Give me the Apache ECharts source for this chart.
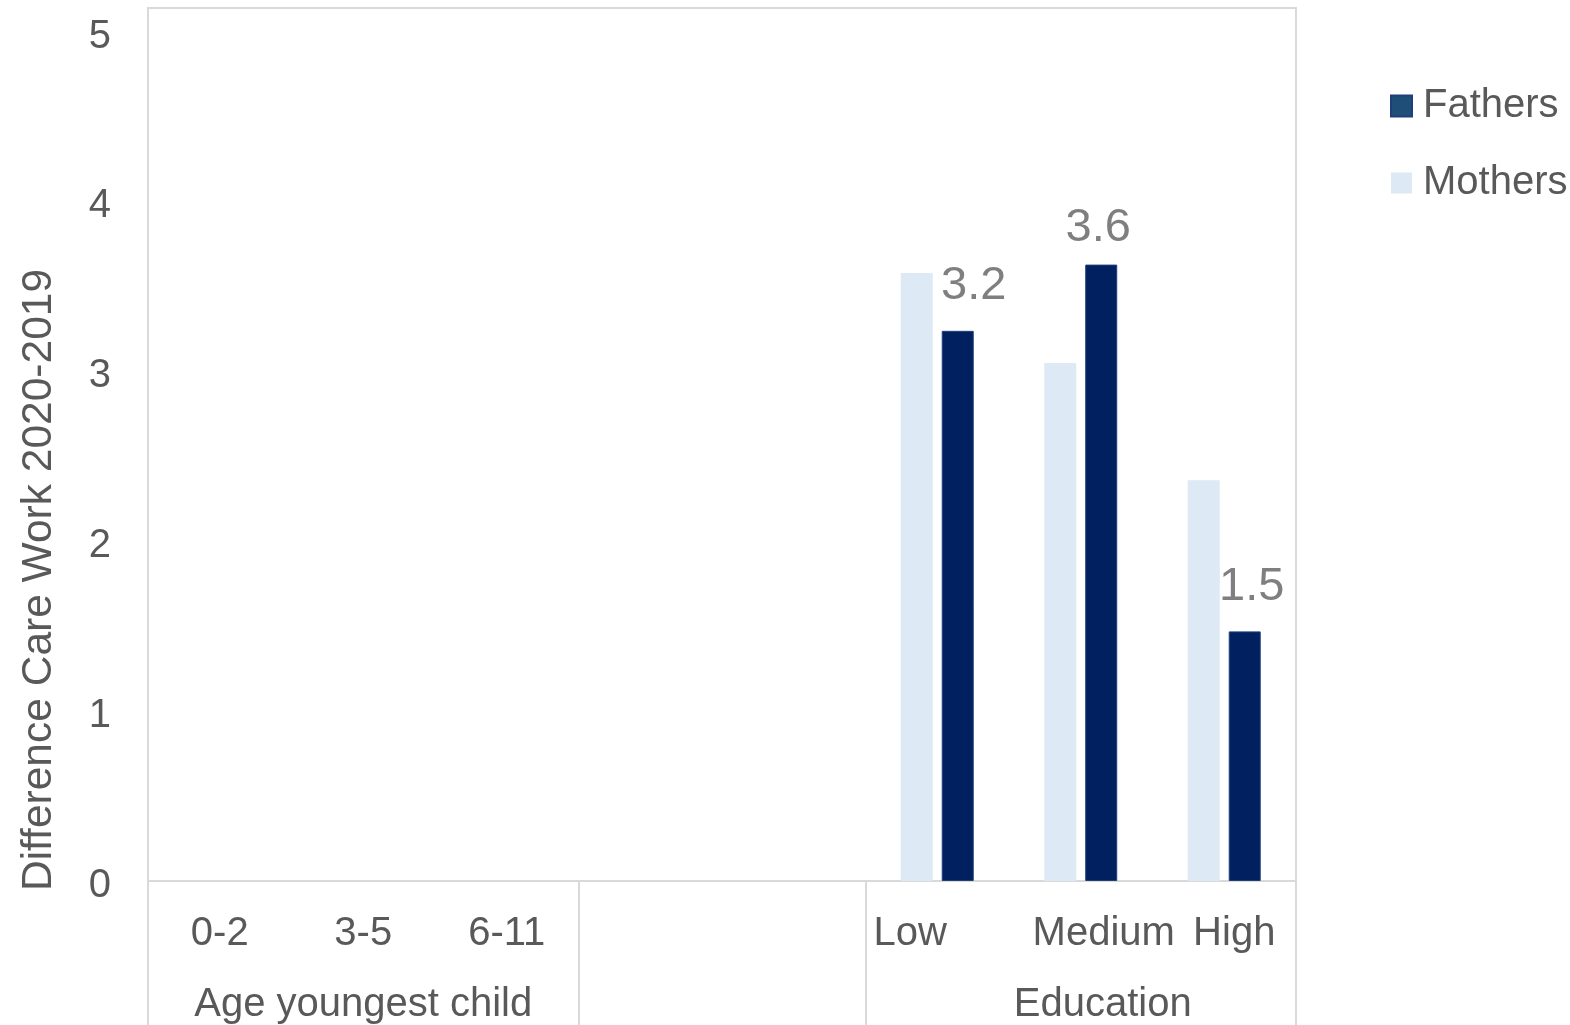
<!DOCTYPE html>
<html>
<head>
<meta charset="utf-8">
<title>Difference Care Work 2020-2019</title>
<script src="https://cdn.jsdelivr.net/npm/echarts@6/dist/echarts.min.js"></script>
<style>
  html, body { margin: 0; padding: 0; background: #ffffff; }
  #chart { width: 1570px; height: 1025px; }
</style>
</head>
<body>
<div id="chart"></div>
<script>
// Categories: two empty slots separate the age block from the education block
const categories = ['0-2', '3-5', '6-11', ' ', '  ', 'Low', 'Medium', 'High'];
const groupLabels = ['', 'Age youngest child', '', '', '', '', 'Education', ''];
const groupBoundaries = [0, 3, 5];
const mothers = [null, null, null, null, null, 3.58, 3.05, 2.36];
const fathers = [null, null, null, null, null, 3.24, 3.63, 1.47];
const yTicks = [0, 1, 2, 3, 4, 5];

const TEXT = '#595959';
const LINE = '#d9d9d9';
const FONT = 'Liberation Sans, Arial, sans-serif';
const FS = 40;

// per-label nudges for the data labels on the fathers bars
const labelOffsets = { 5: [16, -16], 6: [-3, -8], 7: [7, -16] };

const chart = echarts.init(document.getElementById('chart'));

chart.setOption({
  backgroundColor: '#ffffff',
  animation: false,
  textStyle: { fontFamily: FONT },
  grid: {
    left: 148, right: 274, top: 8, bottom: 143,
    show: true, borderColor: LINE, borderWidth: 2, backgroundColor: 'transparent'
  },
  legend: {
    orient: 'vertical',
    left: 1390, top: 85,
    padding: 0,
    itemWidth: 21, itemHeight: 21, itemGap: 35,
    icon: 'rect',
    textStyle: { color: TEXT, fontSize: FS, lineHeight: 42, fontFamily: FONT, padding: [0, 0, 0, 6] },
    data: [
      { name: 'Fathers', itemStyle: { color: '#1f4e79' } },
      { name: 'Mothers', itemStyle: { color: '#dde9f5' } }
    ]
  },
  xAxis: [
    {
      type: 'category',
      data: categories,
      position: 'bottom',
      axisLine: { show: true, lineStyle: { color: LINE, width: 2 } },
      axisTick: { show: false },
      axisLabel: {
        interval: 0,
        margin: 33,
        color: TEXT,
        fontSize: FS,
        fontFamily: FONT,
        formatter: function (v) {
          if (v === 'Low') return '{l|' + v + '}';
          if (v === 'Medium') return '{m|' + v + '}';
          if (v === 'High') return '{h|' + v + '}';
          return v;
        },
        rich: {
          l: { color: TEXT, fontSize: FS, fontFamily: FONT, padding: [0, 54, 0, 0] },
          m: { color: TEXT, fontSize: FS, fontFamily: FONT, padding: [0, 0, 0, 46] },
          h: { color: TEXT, fontSize: FS, fontFamily: FONT, padding: [0, 0, 0, 20] }
        }
      },
      splitLine: { show: false }
    },
    {
      type: 'category',
      data: groupLabels.map(function (g, i) { return g || ('_' + i); }),
      position: 'bottom',
      gridIndex: 0,
      axisLine: { show: false },
      axisTick: {
        show: true,
        length: 145,
        interval: function (index) { return groupBoundaries.indexOf(index) >= 0; },
        lineStyle: { color: LINE, width: 2 }
      },
      axisLabel: {
        interval: 0,
        margin: 104,
        color: TEXT,
        fontSize: FS,
        fontFamily: FONT,
        formatter: function (v) {
          if (v === 'Education') return '{e|' + v + '}';
          return v.charAt(0) === '_' ? '' : v;
        },
        rich: {
          e: { color: TEXT, fontSize: FS, fontFamily: FONT, padding: [0, 0, 0, 44] }
        }
      },
      splitLine: { show: false }
    }
  ],
  yAxis: {
    type: 'value',
    min: 0,
    max: 5 + 24 / 170,
    interval: 1,
    axisLine: { show: false },
    axisTick: { show: false },
    splitLine: { show: false },
    axisLabel: {
      margin: 37,
      color: TEXT,
      fontSize: FS,
      fontFamily: FONT,
      showMaxLabel: false,
      formatter: function (v) { return yTicks.indexOf(v) >= 0 ? '{v|' + v + '}' : ''; },
      rich: {
        v: { color: TEXT, fontSize: FS, fontFamily: FONT, padding: [9, 0, 0, 0] }
      }
    }
  },
  graphic: [
    {
      type: 'text',
      x: 39, y: 580,
      rotation: Math.PI / 2,
      style: {
        text: 'Difference Care Work 2020-2019',
        fill: TEXT,
        font: '42.5px ' + FONT,
        textAlign: 'center',
        textVerticalAlign: 'middle'
      }
    }
  ],
  series: [
    {
      name: 'Mothers',
      type: 'bar',
      xAxisIndex: 0,
      data: mothers,
      barWidth: 32,
      barGap: '28%',
      itemStyle: { color: '#dde9f5' }
    },
    {
      name: 'Fathers',
      type: 'bar',
      xAxisIndex: 0,
      data: fathers.map(function (v, i) {
        if (v === null) return null;
        return {
          value: v,
          label: { offset: labelOffsets[i] || [0, 0] }
        };
      }),
      barWidth: 32,
      barGap: '28%',
      itemStyle: { color: '#002060', borderColor: '#1f3f7a', borderWidth: 1 },
      label: {
        show: true,
        position: 'top',
        distance: 5,
        color: '#7f7f7f',
        fontSize: 47,
        fontFamily: FONT,
        formatter: function (p) { return Number(p.value).toFixed(1); }
      }
    }
  ]
});
</script>
</body>
</html>
